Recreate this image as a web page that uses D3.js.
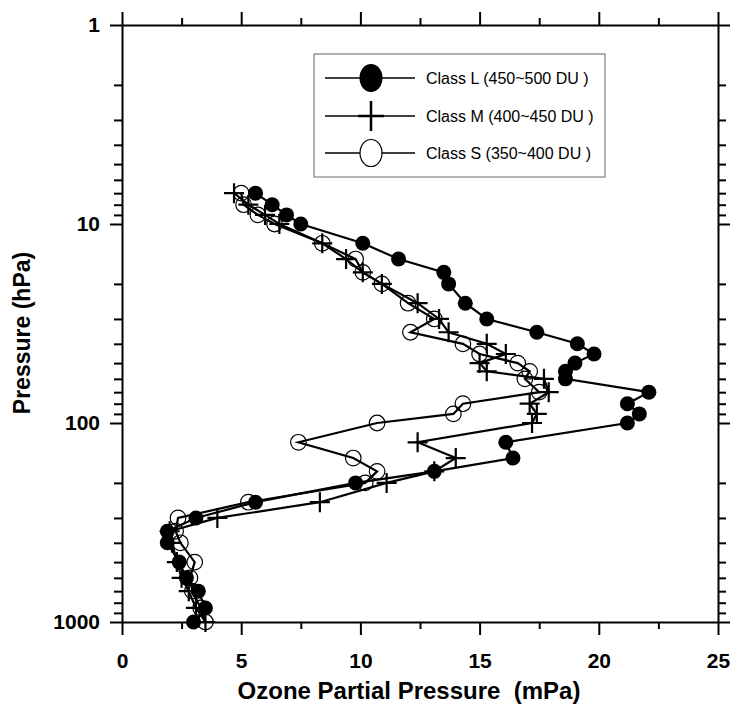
<!DOCTYPE html>
<html><head><meta charset="utf-8">
<script src="https://cdn.jsdelivr.net/npm/d3@7/dist/d3.min.js"></script>
<style>body{margin:0;background:#fff}svg{display:block}</style>
</head><body>
<svg id="c" width="741" height="707"></svg>
<script>
const pressure = [7,8,9,10,12.5,15,17.5,20,25,30,35,40,45,50,55,60,70,80,90,100,125,150,175,200,250,300,350,400,500,600,700,850,1000];
const classL = [5.6,6.3,6.9,7.5,10.1,11.6,13.5,13.7,14.4,15.3,17.4,19.1,19.8,19.0,18.6,18.6,22.1,21.2,21.7,21.2,16.1,16.4,13.1,9.8,5.6,3.1,1.9,1.9,2.4,2.7,3.2,3.5,3.0];
const classM = [4.7,5.3,6.0,6.6,8.4,9.4,10.1,10.9,12.4,13.3,13.7,15.3,16.1,15.0,15.3,17.7,17.9,17.1,17.4,17.2,12.4,14.0,13.1,11.1,8.3,4.0,2.0,2.1,2.3,2.5,2.8,3.1,3.5];
const classS = [5.0,5.1,5.7,6.4,8.4,9.8,10.1,10.9,12.0,13.1,12.1,14.3,15.0,16.6,17.1,16.9,17.5,14.3,13.9,10.7,7.4,9.7,10.7,10.2,5.3,2.35,2.25,2.45,3.05,2.85,2.95,3.3,3.5];
const seriesNames = ["Class L (450~500 DU )","Class M (400~450 DU )","Class S (350~400 DU )"];
const xTicks = [0,2.5,5,7.5,10,12.5,15,17.5,20,22.5,25];
const xLabels = [0,5,10,15,20,25];
const yMajor = [1,10,100,1000];
const xTitle = "Ozone Partial Pressure\u00a0\u00a0(mPa)";
const yTitle = "Pressure (hPa)";

const svg = d3.select("#c");
const x = d3.scaleLinear().domain([0,25]).range([122,718]);
const y = d3.scaleLog().domain([1,1000]).range([25,622]);
const yTicks = [];
[1,10,100].forEach(d=>{for(let k=1;k<10;k++) yTicks.push(d*k);});
yTicks.push(1000);

const font = "Liberation Sans, Arial, sans-serif";
function styleAxis(g, isMajor, majLen, minLen, dirSign, horiz){
  g.select(".domain").attr("stroke","#000").attr("stroke-width",2);
  g.selectAll(".tick line").attr("stroke","#000").attr("stroke-width",2)
    .each(function(d){
      const L = isMajor(d)?majLen:minLen;
      if(horiz) d3.select(this).attr("y2", dirSign*L);
      else d3.select(this).attr("x2", dirSign*L);
    });
  g.selectAll(".tick text").attr("font-family",font).attr("font-weight","bold").attr("font-size",21).attr("fill","#000");
}
const isXMajor = d => xLabels.includes(d);
const isYMajor = d => yMajor.includes(d);

// bottom
const gb = svg.append("g").attr("transform","translate(0,622)")
  .call(d3.axisBottom(x).tickValues(xTicks).tickSizeOuter(0).tickPadding(25)
    .tickFormat(d=>isXMajor(d)?d3.format("d")(d):""));
styleAxis(gb,isXMajor,13,7,1,true);
// top
const gt = svg.append("g").attr("transform","translate(0,25)")
  .call(d3.axisTop(x).tickValues(xTicks).tickSizeOuter(0).tickFormat(""));
styleAxis(gt,isXMajor,13,7,-1,true);
// left
const gl = svg.append("g").attr("transform","translate(122,0)")
  .call(d3.axisLeft(y).tickValues(yTicks).tickSizeOuter(0).tickPadding(10)
    .tickFormat(d=>isYMajor(d)?String(d):""));
styleAxis(gl,isYMajor,12,8,-1,false);
gl.selectAll(".tick text").attr("x",-22);
// right
const gr = svg.append("g").attr("transform","translate(718,0)")
  .call(d3.axisRight(y).tickValues(yTicks).tickSizeOuter(0).tickFormat(""));
styleAxis(gr,isYMajor,12,8,1,false);

// titles
svg.append("text").attr("x",409).attr("y",699).attr("text-anchor","middle")
  .attr("font-family",font).attr("font-weight","bold").attr("font-size",24).text(xTitle);
svg.append("text").attr("transform","translate(30,333) rotate(-90)").attr("text-anchor","middle")
  .attr("font-family",font).attr("font-weight","bold").attr("font-size",23).text(yTitle);

const line = d3.line().x(d=>x(d[0])).y(d=>y(d[1]));
const sets = [classL,classM,classS].map(arr=>arr.map((v,i)=>[v,pressure[i]]));
sets.forEach(s=>{
  svg.append("path").datum(s).attr("d",line).attr("fill","none").attr("stroke","#000").attr("stroke-width",2.2);
});
// S markers
svg.append("g").selectAll("circle").data(sets[2]).join("circle")
  .attr("cx",d=>x(d[0])).attr("cy",d=>y(d[1])).attr("r",7.8)
  .attr("fill","none").attr("stroke","#000").attr("stroke-width",1.2);
// M markers
svg.append("g").selectAll("path").data(sets[1]).join("path")
  .attr("d",d=>{const cx=x(d[0]),cy=y(d[1]);return `M${cx-10},${cy}H${cx+10}M${cx},${cy-10}V${cy+10}`;})
  .attr("stroke","#000").attr("stroke-width",2.2).attr("fill","none");
// L markers
svg.append("g").selectAll("circle").data(sets[0]).join("circle")
  .attr("cx",d=>x(d[0])).attr("cy",d=>y(d[1])).attr("r",7.5).attr("fill","#000");

// legend
const lg = svg.append("g");
lg.append("rect").attr("x",314).attr("y",54).attr("width",291).attr("height",123)
  .attr("fill","#fff").attr("stroke","#666").attr("stroke-width",1);
const rows = [78,116,153];
rows.forEach((ry,i)=>{
  lg.append("line").attr("x1",325).attr("x2",415).attr("y1",ry).attr("y2",ry).attr("stroke","#000").attr("stroke-width",1.5);
  if(i===0) lg.append("ellipse").attr("cx",371).attr("cy",ry).attr("rx",11.5).attr("ry",14).attr("fill","#000");
  if(i===1) lg.append("path").attr("d",`M358,${ry}H384M371,${ry-15}V${ry+15}`).attr("stroke","#000").attr("stroke-width",2.5);
  if(i===2) lg.append("ellipse").attr("cx",371).attr("cy",ry).attr("rx",11).attr("ry",13.5).attr("fill","#fff").attr("stroke","#000").attr("stroke-width",1.2);
  lg.append("text").attr("x",426).attr("y",ry+6).attr("font-family",font).attr("font-size",16).attr("fill","#000").text(seriesNames[i]);
});
</script>
</body></html>
